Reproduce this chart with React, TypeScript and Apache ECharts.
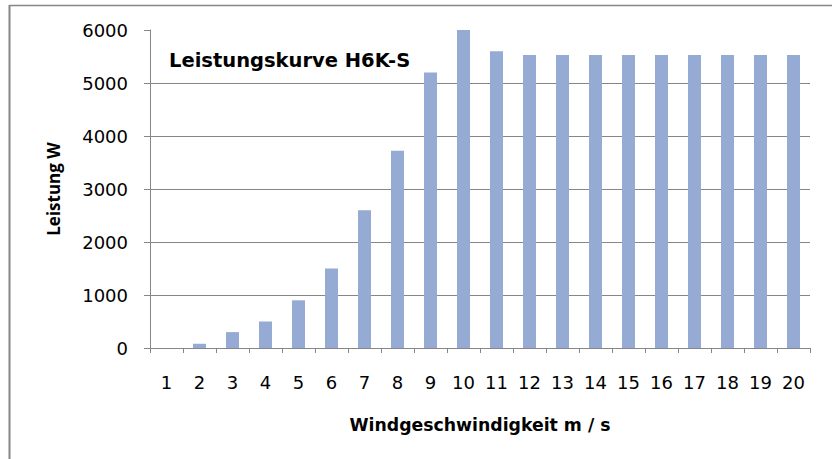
import React, { useEffect, useRef } from "react";
import * as echarts from "echarts";

const categories = ["1","2","3","4","5","6","7","8","9","10","11","12","13","14","15","16","17","18","19","20"];
const powerValues = [0, 80, 300, 500, 900, 1500, 2600, 3720, 5200, 6000, 5600, 5530, 5530, 5530, 5530, 5530, 5530, 5530, 5530, 5530];
const titleText = "Leistungskurve H6K-S";
const xName = "Windgeschwindigkeit m / s";
const yName = "Leistung W";

export default function App() {
  const ref = useRef<HTMLDivElement>(null);
  useEffect(() => {
    if (!ref.current) return;
    const chart = echarts.init(ref.current, null, { renderer: "svg" });
    const grid = "#868686";
    chart.setOption({
      animation: false,
      backgroundColor: "#ffffff",
      title: {
        text: titleText,
        left: 169,
        top: 50,
        padding: 0,
        textStyle: { fontFamily: "DejaVu Sans", fontWeight: "bold", fontSize: 19.5, color: "#000" },
      },
      graphic: [
        { type: "line", shape: { x1: 9.5, y1: 5.5, x2: 832, y2: 5.5 }, style: { stroke: grid, lineWidth: 1.5 } },
        { type: "line", shape: { x1: 9.5, y1: 5, x2: 9.5, y2: 459 }, style: { stroke: grid, lineWidth: 2 } },
      ],
      grid: { left: 150, top: 30, right: 22, bottom: 111, containLabel: false },
      xAxis: {
        type: "category",
        data: categories,
        name: xName,
        nameLocation: "middle",
        nameGap: 68,
        nameTextStyle: { fontFamily: "DejaVu Sans", fontWeight: "bold", fontSize: 17.3, color: "#000" },
        axisLine: { show: true, lineStyle: { color: grid, width: 1 } },
        axisTick: { show: true, length: 5, lineStyle: { color: grid } },
        axisLabel: { margin: 25, fontFamily: "DejaVu Sans", fontSize: 18, color: "#000", interval: 0 },
      },
      yAxis: {
        type: "value",
        min: 0,
        max: 6000,
        interval: 1000,
        name: yName,
        nameLocation: "middle",
        nameGap: 88,
        nameRotate: 90,
        nameTextStyle: { fontFamily: "Open Sans", fontWeight: "bold", fontSize: 17, color: "#000" },
        axisLine: { show: true, lineStyle: { color: grid, width: 1 } },
        axisTick: { show: true, length: 6, lineStyle: { color: grid } },
        axisLabel: {
          margin: 22,
          fontFamily: "DejaVu Sans",
          fontSize: 18,
          color: "#000",
          formatter: (v: number) => String(v),
        },
        splitLine: {
          show: true,
          lineStyle: { color: [grid, grid, grid, grid, grid, grid, "rgba(0,0,0,0)"], width: 1 },
        },
      },
      series: [
        {
          type: "bar",
          data: powerValues,
          barWidth: 13,
          itemStyle: { color: "#95abd3" },
        },
      ],
    });
    return () => chart.dispose();
  }, []);
  return <div ref={ref} style={{ position: "fixed", left: 0, top: 0, width: 832, height: 459 }} />;
}
